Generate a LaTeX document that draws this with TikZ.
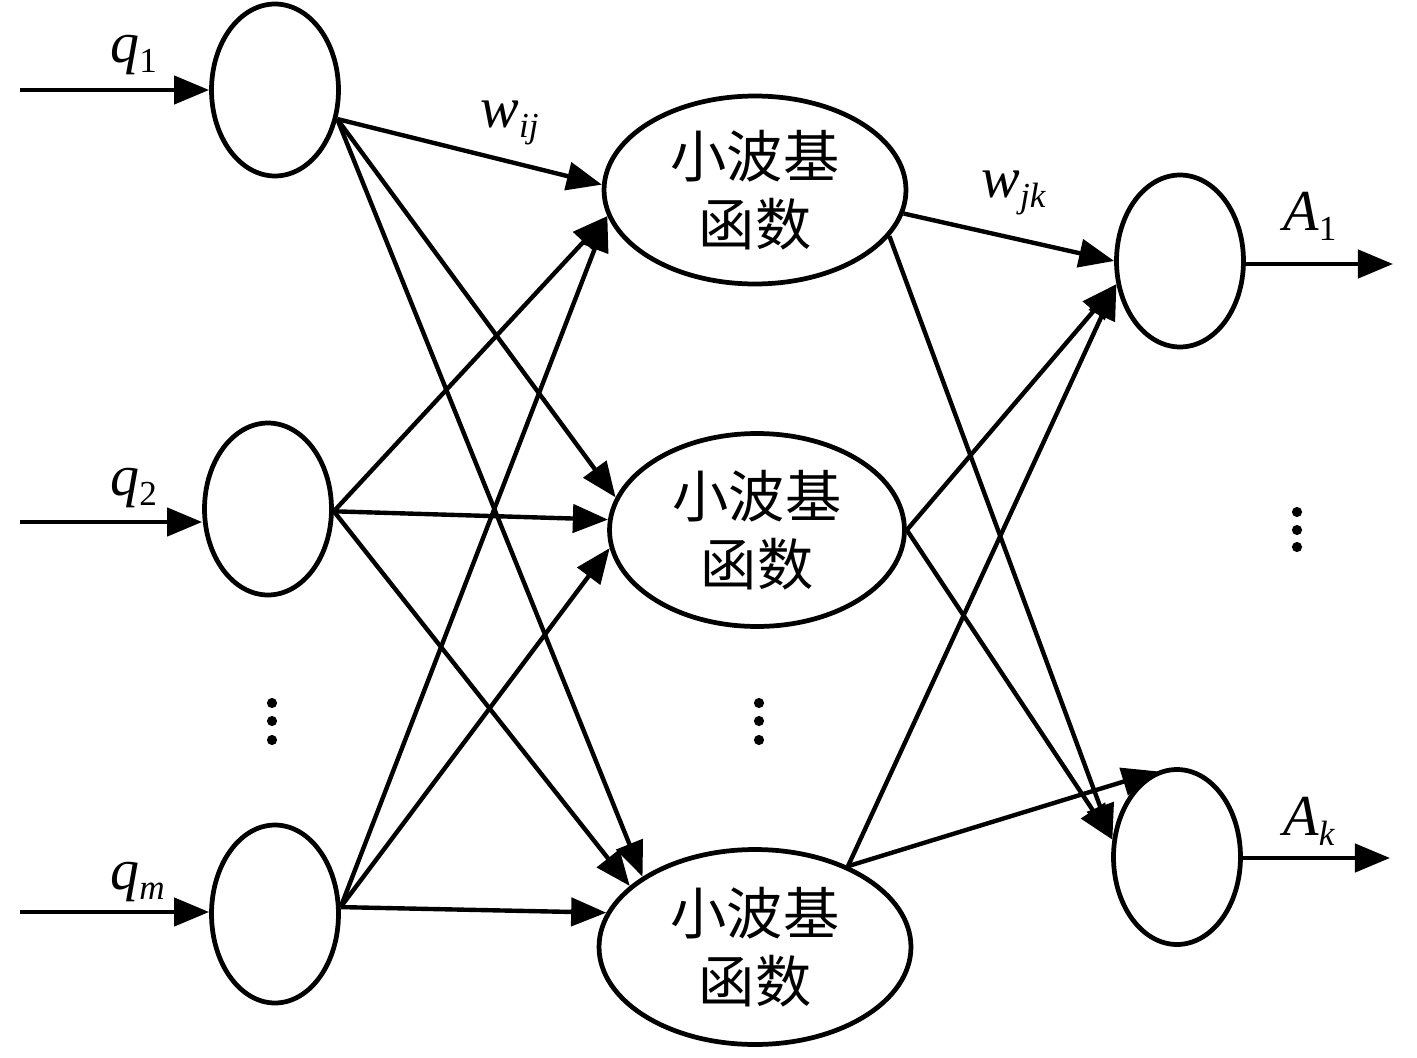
\documentclass[tikz,border=0pt]{standalone}
\usepackage{fontspec}
\setmainfont{Liberation Serif}
\newfontfamily\cjk{Noto Sans CJK SC}
\usetikzlibrary{arrows.meta,shapes.geometric}
\newcommand{\varsub}[1]{\raisebox{-6pt}{\fontsize{20}{20}\selectfont #1}}

\begin{document}
\begin{tikzpicture}[x=0.02cm,y=-0.02cm]
	\tikzstyle{every node}+=[inner sep=0pt]
	\tikzstyle{inode}=[draw,ellipse,line width=2.7pt,minimum width=2.54cm,minimum height=3.44cm]
	\tikzstyle{wnode}=[draw,ellipse,line width=2.7pt,align=center,font=\cjk\fontsize{32}{39}\selectfont]
	\tikzstyle{link}=[line width=2.5pt,-{Triangle[length=20pt,width=16pt]}]
	\tikzstyle{varname}=[anchor=base west,font=\fontsize{33}{33}\selectfont\itshape]
	\useasboundingbox (0,0) rectangle (1417,1058);
	\node [inode] (q1) at (275,90) {};
	\node [inode] (q2) at (268,509) {};
	\node [inode,minimum height=3.56cm] (qm) at (275,914) {};
	\node [wnode,minimum width=6.04cm,minimum height=3.76cm] (h1) at (755,190) {小波基\\函数};
	\node [wnode,minimum width=5.9cm,minimum height=3.86cm] (h2) at (757,530) {小波基\\函数};
	\node [wnode,minimum width=6.24cm,minimum height=3.9cm] (h3) at (755,947) {小波基\\函数};
	\node [inode] (a1) at (1180,261) {};
	\node [inode,minimum height=3.5cm] (ak) at (1177,857) {};
	\coordinate (in1) at (20,90);
	\coordinate (in2) at (20,522);
	\coordinate (inm) at (20,912);
	\coordinate (out1) at (1393,264);
	\coordinate (outk) at (1390,858);
	\draw [link] (in1) -- (q1.west);
	\draw [link] (in2) -- (in2 -| q2.west);
	\draw [link] (inm) -- (inm -| qm.west);
	\draw [link] (a1.east |- out1) -- (out1);
	\draw [link] (ak.east |- outk) -- (outk);
	\draw [link] (q1.-25) -- (h1.178);
	\draw [link] (q1.-25) -- (h2.167);
	\draw [link] (q1.-25) -- (h3.148);
	\draw [link] (q2.-2) -- (h1.190);
	\draw [link] (q2.-2) -- (h2.176);
	\draw [link] (q2.-2) -- (h3.154);
	\draw [link] (qm.6) -- (h1.190);
	\draw [link] (qm.6) -- (h2.187);
	\draw [link] (qm.6) -- (h3.167);
	\draw [link] (h1.351) -- (a1.180);
	\draw [link] (h1.341) -- (ak.165);
	\draw [link] (h2.east) -- (a1.200);
	\draw [link] (h2.east) -- (ak.165);
	\draw [link] (h3.41) -- (a1.200);
	\draw [link] (h3.41) -- (ak.103);
	\node [varname] (lq1) at (110,62) {q\varsub{\upshape 1}};
	\node [varname] (lq2) at (110,495) {q\varsub{\upshape 2}};
	\node [varname] (lqm) at (110,889) {q\varsub{m}};
	\node [varname] (lwij) at (480,127) {w\varsub{ij}};
	\node [varname] (lwjk) at (981,197) {w\varsub{jk}};
	\node [varname] (la1) at (1283,230) {A\varsub{\upshape 1}};
	\node [varname] (lak) at (1283,835) {A\varsub{k}};
	\fill (272,703) circle (2.9pt) (272,721) circle (2.9pt) (272,740) circle (2.9pt);
	\fill (759,703) circle (2.9pt) (759,721) circle (2.9pt) (759,740) circle (2.9pt);
	\fill (1297,512) circle (2.9pt) (1297,530) circle (2.9pt) (1297,547) circle (2.9pt);
\end{tikzpicture}
\end{document}
